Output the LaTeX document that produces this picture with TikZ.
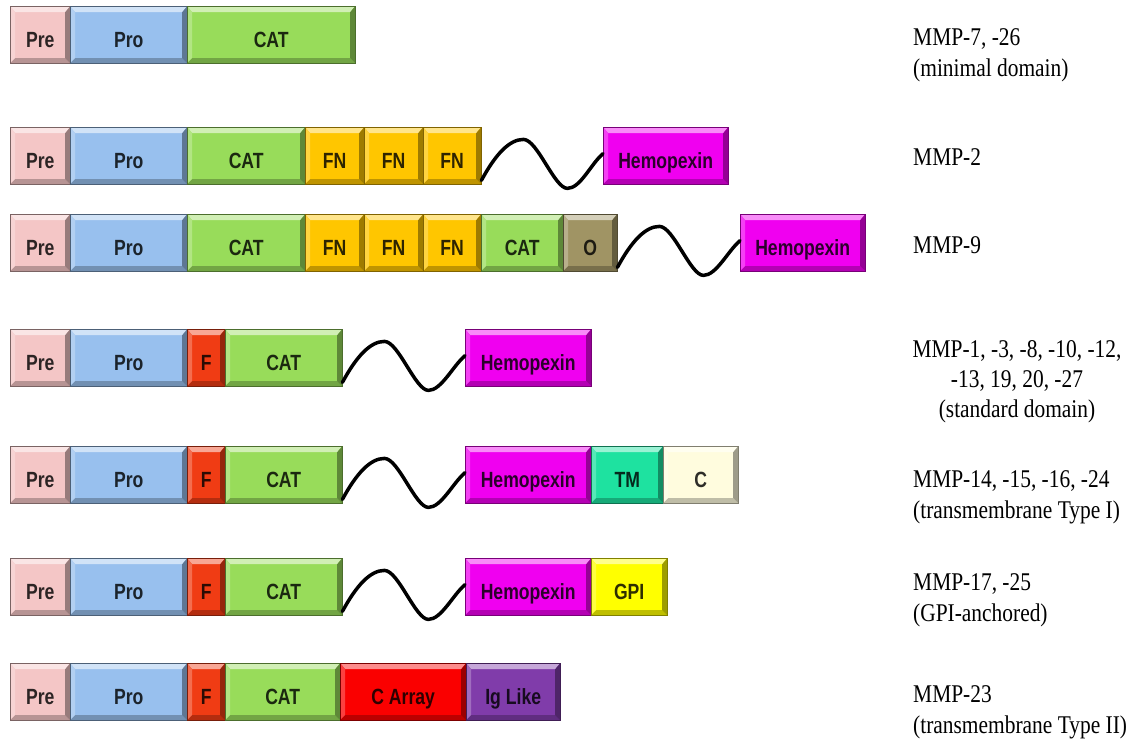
\documentclass[tikz,border=0pt]{standalone}
\usepackage{fontspec}
\setmainfont{Liberation Serif}
\newfontfamily\boxfont[FakeStretch=0.8]{Liberation Sans}
\newfontfamily\labfont[FakeStretch=0.84]{Liberation Serif}
\definecolor{cPre}{RGB}{244,198,198}
\definecolor{cPro}{RGB}{152,192,238}
\definecolor{cCat}{RGB}{152,220,90}
\definecolor{cFN}{RGB}{255,198,0}
\definecolor{cO}{RGB}{160,148,100}
\definecolor{cF}{RGB}{240,60,20}
\definecolor{cHem}{RGB}{240,0,240}
\definecolor{cTM}{RGB}{30,226,160}
\definecolor{cC}{RGB}{255,252,222}
\definecolor{cGPI}{RGB}{255,255,0}
\definecolor{cCA}{RGB}{250,0,0}
\definecolor{cIg}{RGB}{128,60,170}
\tikzset{
  dom/.style={anchor=north west, inner sep=0pt, minimum height=57pt,
    fill=#1, draw=#1!50!black, line width=0.4pt,
    text=black!82!#1, font=\boxfont\bfseries\fontsize{22}{22}\selectfont,
    path picture={
      \fill[#1!45!white] (path picture bounding box.north west) -- (path picture bounding box.north east)
        -- ([shift={(-5pt,-6pt)}]path picture bounding box.north east) -- ([shift={(5pt,-6pt)}]path picture bounding box.north west) -- cycle;
      \fill[#1!75!white] (path picture bounding box.north west) -- ([shift={(5pt,-6pt)}]path picture bounding box.north west)
        -- ([shift={(5pt,5pt)}]path picture bounding box.south west) -- (path picture bounding box.south west) -- cycle;
      \fill[#1!75!black] (path picture bounding box.south west) -- ([shift={(5pt,5pt)}]path picture bounding box.south west)
        -- ([shift={(-5pt,5pt)}]path picture bounding box.south east) -- (path picture bounding box.south east) -- cycle;
      \fill[#1!62!black] (path picture bounding box.north east) -- (path picture bounding box.south east)
        -- ([shift={(-5pt,5pt)}]path picture bounding box.south east) -- ([shift={(-5pt,-6pt)}]path picture bounding box.north east) -- cycle;
    }},
  wavy/.style={line width=3.5pt, black, line cap=round},
  lab/.style={anchor=base west, inner sep=0pt, font=\labfont\fontsize{25.5}{31}\selectfont},
  labc/.style={lab, anchor=base}
}
\newcommand\dm[6]{\node[dom=#5, minimum width={#3pt-#2pt}] (#1) at (#2,#4) {\raisebox{-12.5pt}[0pt][0pt]{#6}};}
\newcommand\wv[2]{\draw[wavy] ([yshift=4pt]#1.south east) .. controls +(14,-26) and +(-14,0) .. ++(42,-41)
   .. controls +(14,0) and +(-13,0) .. ++(44,49) .. controls +(13,0) and +(-12,10) .. ([yshift=2pt]#2.west);}
\begin{document}
\begin{tikzpicture}[x=1pt,y=-1pt]
\fill[white] (0,0) rectangle (1145,742);
\useasboundingbox (0,0) rectangle (1145,742);
% row 1
\dm{preA}{10}{70}{6}{cPre}{Pre}
\dm{proA}{70}{187}{6}{cPro}{Pro}
\dm{catA}{187}{355}{6}{cCat}{CAT}
% row 2
\dm{preB}{10}{70}{127}{cPre}{Pre}
\dm{proB}{70}{187}{127}{cPro}{Pro}
\dm{catB}{187}{305}{127}{cCat}{CAT}
\dm{fnBa}{305}{364}{127}{cFN}{FN}
\dm{fnBb}{364}{423}{127}{cFN}{FN}
\dm{fnBc}{423}{481}{127}{cFN}{FN}
\dm{hemB}{603}{728}{127}{cHem}{Hemopexin}
\wv{fnBc}{hemB}
% row 3
\dm{preC}{10}{70}{214}{cPre}{Pre}
\dm{proC}{70}{187}{214}{cPro}{Pro}
\dm{catC}{187}{305}{214}{cCat}{CAT}
\dm{fnCa}{305}{364}{214}{cFN}{FN}
\dm{fnCb}{364}{423}{214}{cFN}{FN}
\dm{fnCc}{423}{481}{214}{cFN}{FN}
\dm{catCb}{481}{563}{214}{cCat}{CAT}
\dm{oC}{563}{617}{214}{cO}{O}
\dm{hemC}{740}{865}{214}{cHem}{Hemopexin}
\wv{oC}{hemC}
% row 4
\dm{preD}{10}{70}{329}{cPre}{Pre}
\dm{proD}{70}{187}{329}{cPro}{Pro}
\dm{fD}{187}{225}{329}{cF}{F}
\dm{catD}{225}{342}{329}{cCat}{CAT}
\dm{hemD}{465}{591}{329}{cHem}{Hemopexin}
\wv{catD}{hemD}
% row 5
\dm{preE}{10}{70}{446}{cPre}{Pre}
\dm{proE}{70}{187}{446}{cPro}{Pro}
\dm{fE}{187}{225}{446}{cF}{F}
\dm{catE}{225}{342}{446}{cCat}{CAT}
\dm{hemE}{465}{591}{446}{cHem}{Hemopexin}
\dm{tmE}{591}{663}{446}{cTM}{TM}
\dm{cE}{663}{738}{446}{cC}{C}
\wv{catE}{hemE}
% row 6
\dm{preF}{10}{70}{558}{cPre}{Pre}
\dm{proF}{70}{187}{558}{cPro}{Pro}
\dm{fF}{187}{225}{558}{cF}{F}
\dm{catF}{225}{342}{558}{cCat}{CAT}
\dm{hemF}{465}{591}{558}{cHem}{Hemopexin}
\dm{gpiF}{591}{667}{558}{cGPI}{GPI}
\wv{catF}{hemF}
% row 7
\dm{preG}{10}{70}{663}{cPre}{Pre}
\dm{proG}{70}{187}{663}{cPro}{Pro}
\dm{fG}{187}{225}{663}{cF}{F}
\dm{catG}{225}{340}{663}{cCat}{CAT}
\dm{caG}{340}{466}{663}{cCA}{C Array}
\dm{igG}{466}{560}{663}{cIg}{Ig Like}
% labels
\node[lab] (lA1) at (913,45) {MMP-7, -26};
\node[lab] (lA2) at (913,76) {(minimal domain)};
\node[lab] (lB1) at (913,165) {MMP-2};
\node[lab] (lC1) at (913,253) {MMP-9};
\node[labc] (lD1) at (1017,357) {MMP-1, -3, -8, -10, -12,};
\node[labc] (lD2) at (1017,387) {-13, 19, 20, -27};
\node[labc] (lD3) at (1017,417) {(standard domain)};
\node[lab] (lE1) at (913,487) {MMP-14, -15, -16, -24};
\node[lab] (lE2) at (913,518) {(transmembrane Type I)};
\node[lab] (lF1) at (913,590) {MMP-17, -25};
\node[lab] (lF2) at (913,621) {(GPI-anchored)};
\node[lab] (lG1) at (913,702) {MMP-23};
\node[lab] (lG2) at (913,733) {(transmembrane Type II)};
\end{tikzpicture}
\end{document}
